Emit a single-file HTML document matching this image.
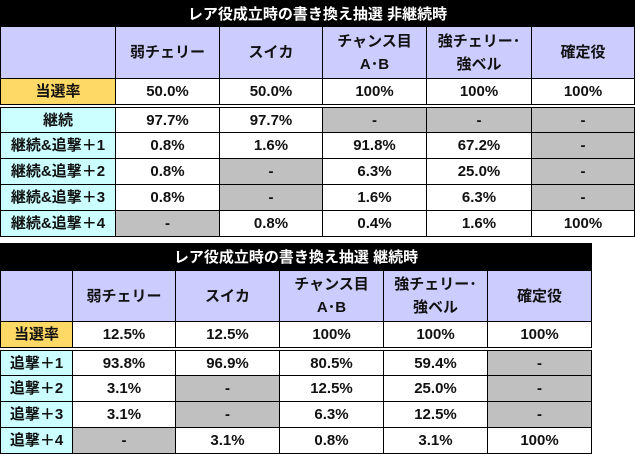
<!DOCTYPE html>
<html><head><meta charset="utf-8">
<style>
body{margin:0;width:635px;height:454px;background:#fff;position:relative;overflow:hidden;font-family:"Liberation Sans","Noto Sans CJK JP",sans-serif;font-weight:bold;color:#111}
.c{position:absolute;box-sizing:border-box;border:1px solid #000;display:flex;align-items:center;justify-content:center;text-align:center;font-size:15px;line-height:23px;background:#fff}
.t{position:absolute;background:#000;color:#fff;font-size:15px;display:flex;align-items:center;justify-content:center}
.h{background:#ccccff}.y{background:#ffd966}.l{background:#ccffff}.g{background:#c0c0c0}
</style></head><body>
<div id="root"></div>
<script>
const root=document.getElementById('root');
const heads=['弱チェリー','スイカ','チャンス目<br>A･B','強チェリー･<br>強ベル','確定役'];
const t1Rows=['当選率','継続','継続&追撃＋1','継続&追撃＋2','継続&追撃＋3','継続&追撃＋4'];
const t1Vals=[['50.0%','50.0%','100%','100%','100%'],['97.7%','97.7%','-','-','-'],['0.8%','1.6%','91.8%','67.2%','-'],['0.8%','-','6.3%','25.0%','-'],['0.8%','-','1.6%','6.3%','-'],['-','0.8%','0.4%','1.6%','100%']];
const t1Gray=[[0,0,0,0,0],[0,0,1,1,1],[0,0,0,0,1],[0,1,0,0,1],[0,1,0,0,1],[1,0,0,0,0]];
const t2Rows=['当選率','追撃＋1','追撃＋2','追撃＋3','追撃＋4'];
const t2Vals=[['12.5%','12.5%','100%','100%','100%'],['93.8%','96.9%','80.5%','59.4%','-'],['3.1%','-','12.5%','25.0%','-'],['3.1%','-','6.3%','12.5%','-'],['-','3.1%','0.8%','3.1%','100%']];
const t2Gray=[[0,0,0,0,0],[0,0,0,0,1],[0,1,0,0,1],[0,1,0,0,1],[1,0,0,0,0]];
function cell(x,y,w,h,html,cls,name){
  const d=document.createElement('div');d.className='c '+cls;
  d.style.left=x+'px';d.style.top=y+'px';d.style.width=(w+1)+'px';d.style.height=(h+1)+'px';
  d.innerHTML=html;
  
  
  root.appendChild(d);
}
function table(id,title,top,cols,rowsY,rows,vals,gray,width){
  const t=document.createElement('div');t.className='t';
  t.style.left='0px';t.style.top=top+'px';t.style.width=width+'px';t.style.height='27px';
  t.textContent=title;
  
  
  root.appendChild(t);
  cell(cols[0],rowsY[0],cols[1]-cols[0],rowsY[1]-rowsY[0],'','h',id+'-corner');
  heads.forEach((h,i)=>cell(cols[i+1],rowsY[0],cols[i+2]-cols[i+1],rowsY[1]-rowsY[0],h,'h',id+'-header-'+i));
  rows.forEach((r,ri)=>{
    const y=rowsY[ri+1]+(ri==1?3:0), h=rowsY[ri+2]-y;
    cell(cols[0],y,cols[1]-cols[0],h,r,ri==0?'y':'l',id+'-row-label-'+ri);
    vals[ri].forEach((v,ci)=>cell(cols[ci+1],y,cols[ci+2]-cols[ci+1],h,v,gray[ri][ci]?'g':'',id+'-cell-'+ri+'-'+ci));
  });
}
table('table-non-continue','レア役成立時の書き換え抽選 非継続時',0,[0,115,219,322,426,531,634],[26,78,104,132,158,184,210,236],t1Rows,t1Vals,t1Gray,635);
table('table-continue','レア役成立時の書き換え抽選 継続時',243,[0,72,175,279,383,487,591],[270,321,347,375,401,427,453],t2Rows,t2Vals,t2Gray,592);
</script>
</body></html>
